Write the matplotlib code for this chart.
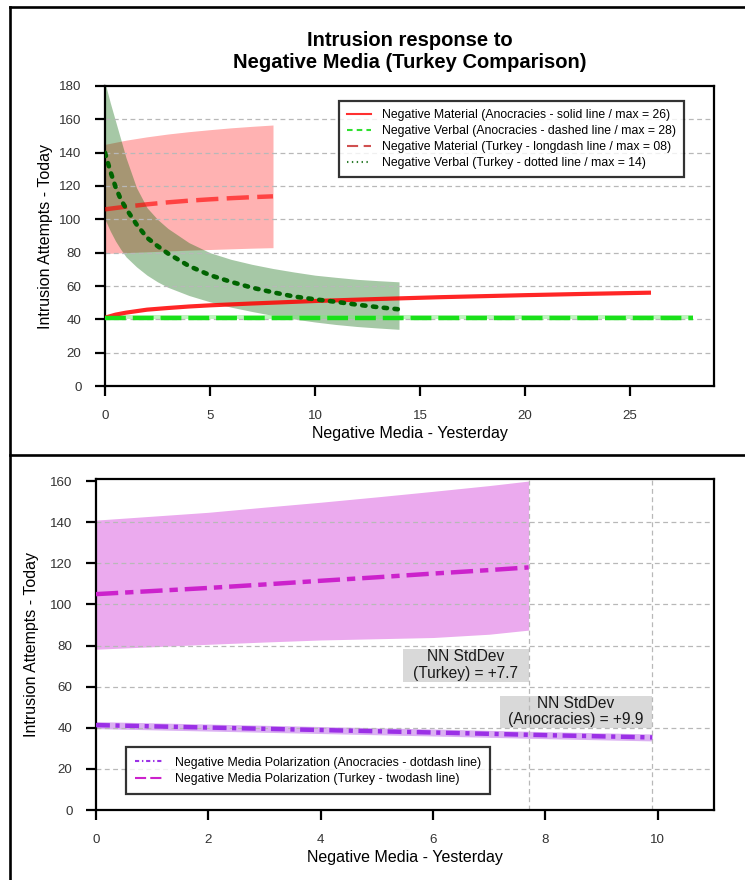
import matplotlib
matplotlib.use('Agg')
import matplotlib.pyplot as plt
from matplotlib.lines import Line2D
from matplotlib.patches import Rectangle

plt.rcParams['font.family'] = ['Liberation Sans', 'DejaVu Sans']
plt.rcParams['lines.scale_dashes'] = False

# ---------------- top panel data ----------------
anoc_mat_x = [0, 0.5, 1, 2, 3, 4, 5, 7, 10, 13, 16, 20, 23, 26]
anoc_mat_y = [41, 42.8, 44, 45.8, 46.8, 47.7, 48.4, 49.5, 51, 52.2, 53.3, 54.5, 55.3, 56]

anoc_verb_x = [0, 28]
anoc_verb_y = [41, 41]
anoc_verb_lo = [40, 40]
anoc_verb_hi = [42.5, 42.5]

tur_mat_x = [0, 1, 2, 3, 4, 5, 6, 7, 8]
tur_mat_y = [106, 107.6, 109, 110.2, 111.2, 112, 112.7, 113.3, 113.8]
tur_mat_lo = [79.5, 80, 80.5, 81, 81.5, 81.9, 82.3, 82.7, 83]
tur_mat_hi = [145, 147.5, 149.5, 151.2, 152.6, 153.8, 154.9, 155.8, 156.6]

tur_verb_x = [0, 0.25, 0.5, 0.75, 1, 1.5, 2, 2.5, 3, 4, 5, 6, 7, 8, 9, 10, 11, 12, 13, 14]
tur_verb_y = [140, 129, 119.5, 112, 106.5, 97, 89, 84, 79.5, 72, 66.5, 62.5, 59, 56.2, 53.7, 52, 50.5, 48.8, 47.3, 46]
tur_verb_lo = [100, 93, 87, 82, 77.5, 71.5, 66.5, 62.5, 59.2, 54.3, 50.5, 47.3, 44.7, 42.3, 40.2, 38.4, 36.9, 35.7, 34.8, 34]
tur_verb_hi = [182, 170, 159, 148, 137, 119, 107, 100, 94.5, 86, 80, 76, 73, 70.5, 68.4, 66.5, 65.2, 64, 63.2, 62.5]

top_labels = ["Negative Material (Anocracies - solid line / max = 26)",
              "Negative Verbal (Anocracies - dashed line / max = 28)",
              "Negative Material (Turkey - longdash line / max = 08)",
              "Negative Verbal (Turkey - dotted line / max = 14)"]
top_xticks = [0, 5, 10, 15, 20, 25]
top_yticks = [0, 20, 40, 60, 80, 100, 120, 140, 160, 180]
top_grid = [20, 40, 60, 80, 100, 120, 140, 160]

# ---------------- bottom panel data ----------------
pol_anoc_x = [0, 2, 4, 6, 8, 9.9]
pol_anoc_y = [41.3, 40.1, 38.9, 37.7, 36.4, 35.3]
pol_anoc_lo = [39.6, 38.4, 37.2, 36.0, 34.7, 33.6]
pol_anoc_hi = [43.0, 41.8, 40.6, 39.4, 38.1, 37.0]

pol_tur_x = [0, 1, 2, 3, 4, 5, 6, 7, 7.7]
pol_tur_y = [105, 106.5, 108, 109.7, 111.5, 113.2, 115, 116.7, 118]
pol_tur_lo = [78.2, 79.4, 80.6, 81.7, 82.7, 83.3, 83.9, 85.5, 87.5]
pol_tur_hi = [141, 142.9, 144.8, 147.3, 149.7, 152.3, 155, 157.8, 160]

bottom_labels = ["Negative Media Polarization (Anocracies - dotdash line)",
                 "Negative Media Polarization (Turkey - twodash line)"]
sd_values = [7.7, 9.9]
sd_texts = ["NN StdDev\n(Turkey) = +7.7", "NN StdDev\n(Anocracies) = +9.9"]
bot_xticks = [0, 2, 4, 6, 8, 10]
bot_yticks = [0, 20, 40, 60, 80, 100, 120, 140, 160]
bot_grid = [20, 40, 60, 80, 100, 120, 140]

# ---------------- figure ----------------
W, H = 745, 880
fig = plt.figure(figsize=(W / 100, H / 100), dpi=100)

def fx(px):
    return px / W

def fy(py):
    return 1 - py / H

ax1 = fig.add_axes([fx(105), fy(386), fx(714) - fx(105), fy(86) - fy(386)])
ax2 = fig.add_axes([fx(96), fy(810), fx(714) - fx(96), fy(479) - fy(810)])

grid_kw = dict(color='#b8b8b8', lw=0.9, dashes=(3.5, 2.5), zorder=1.5)

def style_axes(ax):
    for s in ax.spines.values():
        s.set_linewidth(1.6)
        s.set_color('black')
    ax.tick_params(axis='both', direction='out', length=7, width=1.6,
                   labelsize=9.6, pad=10, colors='black', labelcolor='#333333')

# ---- top panel ----
ax1.fill_between(tur_mat_x, tur_mat_lo, tur_mat_hi, color='#ff0000', alpha=0.3, lw=0, zorder=1)
ax1.fill_between(tur_verb_x, tur_verb_lo, tur_verb_hi, color='#006400', alpha=0.35, lw=0, zorder=1.1)
ax1.fill_between(anoc_verb_x, anoc_verb_lo, anoc_verb_hi, color='#7de87d', alpha=0.5, lw=0, zorder=1.2)
for g in top_grid:
    ax1.axhline(g, **grid_kw)

ax1.plot(anoc_mat_x, anoc_mat_y, color='#ff0000', alpha=0.85, lw=3.0, solid_capstyle='butt', zorder=3)
ax1.plot(anoc_verb_x, anoc_verb_y, color='#19e019', lw=3.2, dashes=(15, 5), zorder=3)
ax1.plot(tur_mat_x, tur_mat_y, color='#ff0000', alpha=0.62, lw=3.2, dashes=(16, 6), zorder=3)
ax1.plot(tur_verb_x, tur_verb_y, color='#006400', lw=3.3, dashes=(2.4, 5.4),
         dash_capstyle='round', zorder=3)

ax1.set_xlim(0, 29)
ax1.set_ylim(0, 180)
ax1.set_xticks(top_xticks)
ax1.set_yticks(top_yticks)
style_axes(ax1)
ax1.set_xlabel("Negative Media - Yesterday", fontsize=11.5, labelpad=3)
ax1.set_ylabel("Intrusion Attempts - Today", fontsize=11.5, labelpad=4)
ax1.set_title("Intrusion response to\nNegative Media (Turkey Comparison)",
              fontsize=14.5, fontweight='bold', pad=13, linespacing=1.2)

top_handles = [
    Line2D([], [], color='#ff3030', lw=1.5),
    Line2D([], [], color='#30e030', lw=1.5, dashes=(4, 3)),
    Line2D([], [], color='#d05050', lw=1.5, dashes=(8, 4)),
    Line2D([], [], color='#2e7d2e', lw=1.5, dashes=(1, 2.5)),
]
leg1 = ax1.legend(top_handles, top_labels, loc='upper right', bbox_to_anchor=(0.951, 0.95),
                  fontsize=8.8, frameon=True, fancybox=False, edgecolor='black',
                  handlelength=2.0, handletextpad=0.9, labelspacing=0.33,
                  borderpad=0.65, borderaxespad=0)
leg1.get_frame().set_linewidth(1.6)
leg1.set_zorder(5)

# ---- bottom panel ----
ax2.fill_between(pol_tur_x, pol_tur_lo, pol_tur_hi, color='#ebaaee', lw=0, zorder=1)
ax2.fill_between(pol_anoc_x, pol_anoc_lo, pol_anoc_hi, color='#dbb0f2', lw=0, zorder=1.1)

box_w = [2.24, 2.71]
box_lo = [62.4, 40.0]
box_hi = [78.5, 55.6]
for sd, txt, w, lo, hi in zip(sd_values, sd_texts, box_w, box_lo, box_hi):
    ax2.add_patch(Rectangle((sd - w, lo), w, hi - lo, facecolor='#d9d9d9',
                            edgecolor='none', zorder=1.3))
    ax2.text(sd - w / 2, (lo + hi) / 2, txt, ha='center', va='center',
             fontsize=11.2, linespacing=1.12, color='#1a1a1a', zorder=1.4)

for g in bot_grid:
    ax2.axhline(g, **grid_kw)
for sd in sd_values:
    ax2.axvline(sd, **grid_kw)

ax2.plot(pol_anoc_x, pol_anoc_y, color='#9b30e6', lw=3.2,
         dashes=(10, 4, 3, 4), zorder=3)
ax2.plot(pol_tur_x, pol_tur_y, color='#cc22cc', lw=3.2,
         dashes=(16, 5, 6, 5), zorder=3)

ax2.set_xlim(0, 11)
ax2.set_ylim(0, 161)
ax2.set_xticks(bot_xticks)
ax2.set_yticks(bot_yticks)
style_axes(ax2)
ax2.set_xlabel("Negative Media - Yesterday", fontsize=11.5, labelpad=3)
ax2.set_ylabel("Intrusion Attempts - Today", fontsize=11.5, labelpad=8)

bot_handles = [
    Line2D([], [], color='#9b30e6', lw=1.5, dashes=(3, 2, 1, 2)),
    Line2D([], [], color='#cc22cc', lw=1.5, dashes=(8, 3)),
]
leg2 = ax2.legend(bot_handles, bottom_labels, loc='lower left', bbox_to_anchor=(0.0485, 0.048),
                  fontsize=8.9, frameon=True, fancybox=False, edgecolor='black',
                  handlelength=2.2, handletextpad=1.0, labelspacing=0.35,
                  borderpad=0.75, borderaxespad=0)
leg2.get_frame().set_linewidth(1.6)
leg2.set_zorder(5)

# ---- outer frame lines ----
frame_kw = dict(color='black', lw=1.9, transform=fig.transFigure)
fig.add_artist(Line2D([fx(10), 1.0], [fy(7), fy(7)], **frame_kw))
fig.add_artist(Line2D([fx(10), fx(10)], [0.0, fy(7)], **frame_kw))
fig.add_artist(Line2D([fx(10), 1.0], [fy(455), fy(455)], **frame_kw))

fig.savefig('out.png', dpi=100, facecolor='white')
